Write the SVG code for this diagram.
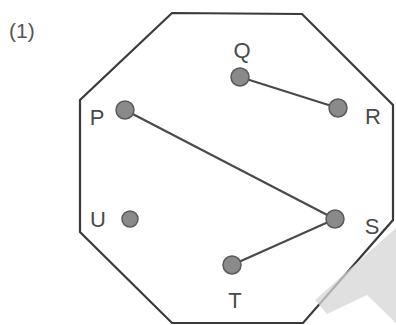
<svg xmlns="http://www.w3.org/2000/svg" width="396" height="325" viewBox="0 0 396 325">
<style>
.lbl{font-family:"Liberation Sans",Arial,sans-serif;font-size:22px;fill:#4a4a4a;text-anchor:middle}
.dot{fill:#8a8a8a;stroke:#5a5a5a;stroke-width:1.5}
.edge{stroke:#4a4a4a;stroke-width:2.2;fill:none}
</style>
<rect width="396" height="325" fill="#fff"/>
<text x="9" y="38" style="font-family:'Liberation Sans',Arial,sans-serif;font-size:21px;fill:#555">(1)</text>
<polygon id="octagon" points="172,13 302,14 393,105 393,220 303,323 172,323 80,232 80,100" fill="none" stroke="#3a3a3a" stroke-width="2.2"/>
<g id="connectors">
<line class="edge" x1="240" y1="77" x2="338" y2="108"/>
<line class="edge" x1="125" y1="110" x2="335" y2="219"/>
<line class="edge" x1="335" y1="219" x2="232" y2="265"/>
</g>
<g id="P"><circle class="dot" cx="125" cy="110" r="9"/><text class="lbl" x="97" y="125">P</text></g>
<g id="Q"><circle class="dot" cx="240" cy="77" r="9"/><text class="lbl" x="242" y="58">Q</text></g>
<g id="R"><circle class="dot" cx="338" cy="108" r="9"/><text class="lbl" x="373" y="124">R</text></g>
<g id="U"><circle class="dot" cx="130" cy="219" r="8"/><text class="lbl" x="98" y="227">U</text></g>
<g id="S"><circle class="dot" cx="335" cy="219" r="9"/><text class="lbl" x="372" y="234">S</text></g>
<g id="T"><circle class="dot" cx="232" cy="265" r="9"/><text class="lbl" x="235" y="308">T</text></g>
<polygon points="315,300 396,228 396,323 367,295 327,314" fill="#d6d6d6" opacity="0.75"/>
</svg>
